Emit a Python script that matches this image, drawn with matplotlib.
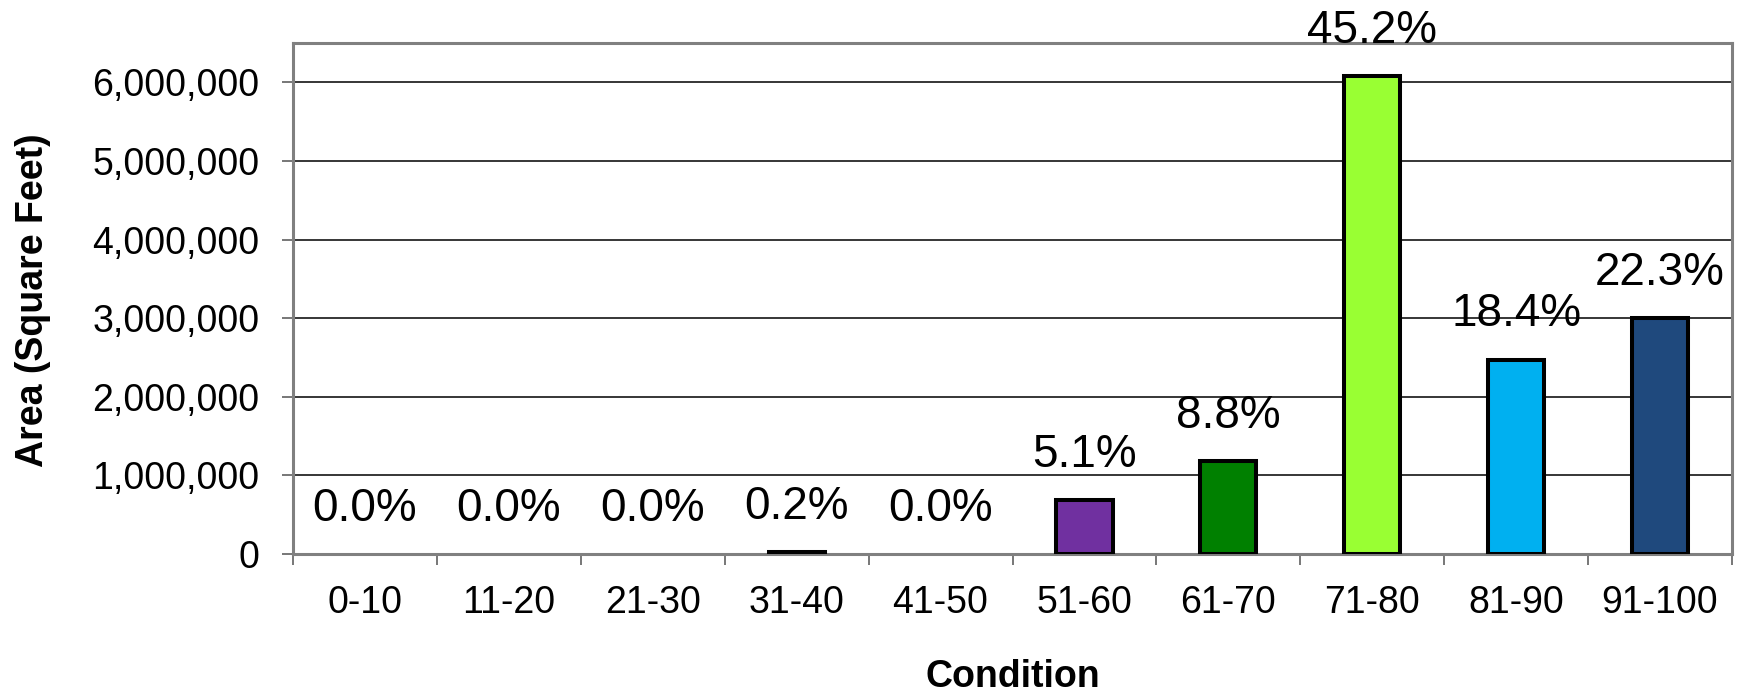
import numpy as np
from matplotlib import pyplot as plt
from matplotlib.ticker import FuncFormatter

plt.rcParams['font.family'] = ['Liberation Sans', 'DejaVu Sans']

# datos
categorias = ['0-10', '11-20', '21-30', '31-40', '41-50', '51-60', '61-70', '71-80', '81-90', '91-100']
area = [0, 0, 0, 27000, 0, 685000, 1180000, 6080000, 2470000, 3000000]
porcentajes = ['0.0%', '0.0%', '0.0%', '0.2%', '0.0%', '5.1%', '8.8%', '45.2%', '18.4%', '22.3%']
colores = ['#7030A0', '#7030A0', '#7030A0', '#7030A0', '#7030A0',
           '#7030A0', '#008000', '#99FF33', '#00B0F0', '#1F497D']

fig = plt.figure(figsize=(17.38, 6.97), dpi=100)
ax = fig.add_axes([293 / 1738, 1 - 554 / 697, 1439 / 1738, 511 / 697])

x = np.arange(len(categorias))
anchos = [2.9 if v > 0 else 0 for v in area]  # sin borde para barras en cero
ax.bar(x, area, width=0.39, color=colores, edgecolor='black', linewidth=anchos, zorder=3)

for xi, v, p in zip(x, area, porcentajes):
    ax.annotate(p, xy=(xi, v), xytext=(0, 24), textcoords='offset points',
                ha='center', va='baseline', fontsize=33, zorder=4)

ax.set_xlim(-0.5, len(categorias) - 0.5)
ax.set_ylim(0, 6500000)
ax.set_yticks(np.arange(0, 7000000, 1000000))
ax.yaxis.set_major_formatter(FuncFormatter(lambda v, pos: f'{int(v):,}'))
ax.grid(axis='y', color='black', linewidth=1.1, zorder=0)

# marcas entre categorias, etiquetas en el centro
ax.set_xticks(np.arange(-0.5, len(categorias), 1.0))
ax.set_xticklabels([])
ax.set_xticks(x, minor=True)
ax.set_xticklabels(categorias, minor=True)
ax.tick_params(axis='x', which='major', length=8, width=1.2, color='#606060', direction='out')
ax.tick_params(axis='x', which='minor', length=0, labelsize=27, pad=22)
ax.tick_params(axis='y', length=8, width=1.2, color='#606060', labelsize=27, pad=16)

for lado in ['top', 'bottom', 'left', 'right']:
    ax.spines[lado].set_color('#808080')
    ax.spines[lado].set_linewidth(2.2)

ax.set_xlabel('Condition', fontsize=27, fontweight='bold')
ax.xaxis.set_label_coords(0.5, -0.241)
ax.xaxis.label.set_va('center')
ax.set_ylabel('Area (Square Feet)', fontsize=27, fontweight='bold')
ax.yaxis.set_label_coords(-0.181, 0.497)
ax.yaxis.label.set_va('center')

plt.savefig('out.png', dpi=100)
